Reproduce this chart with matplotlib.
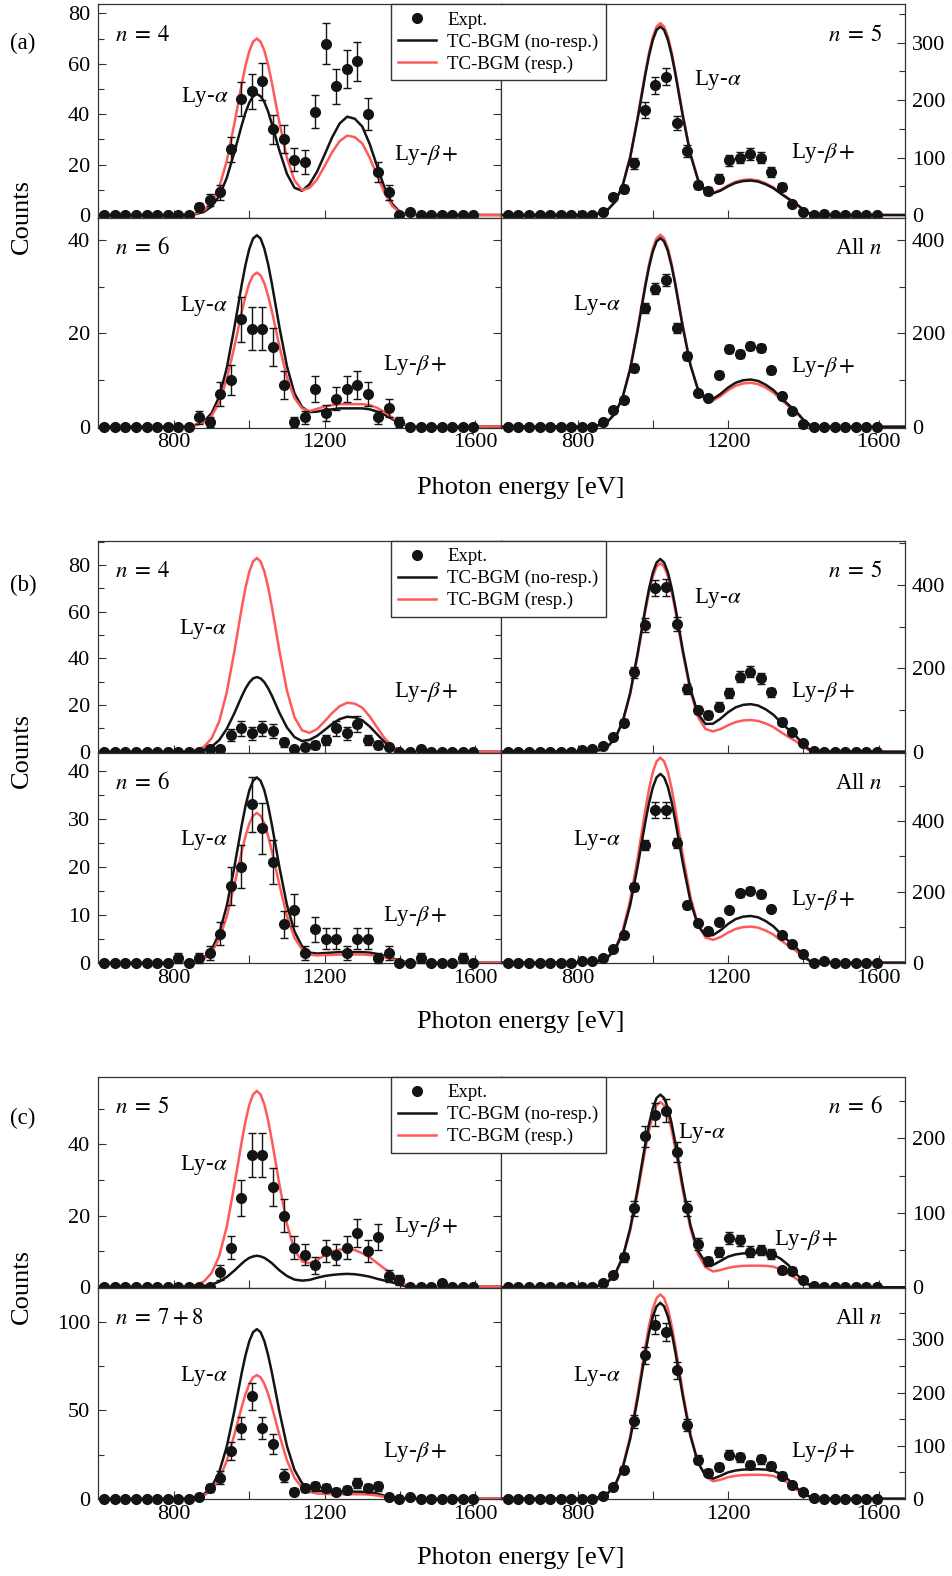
import matplotlib
matplotlib.use('Agg')
import matplotlib.pyplot as plt
from matplotlib.lines import Line2D
from matplotlib.ticker import FixedLocator, MultipleLocator

plt.rcParams['font.family'] = ['Liberation Serif', 'DejaVu Serif']
plt.rcParams['mathtext.fontset'] = 'stix'

# bin centres of the measured spectra (eV)
energy = [615, 643, 671, 699, 727, 755, 783, 811, 839, 867, 895, 923, 951, 979, 1007, 1035, 1063, 1091,
          1119, 1147, 1175, 1203, 1231, 1259, 1287, 1315, 1343, 1371, 1399, 1427, 1455, 1483, 1511, 1539, 1567, 1595]
# energies where the model curves were read
curve_energy = [600, 820, 840, 860, 880, 900, 920, 940, 960, 980, 990, 1000, 1010, 1020, 1030, 1040, 1050, 1060,
                1080, 1100, 1120, 1140, 1160, 1180, 1200, 1220, 1240, 1260, 1280, 1300, 1320, 1340, 1360, 1380,
                1400, 1420, 1440, 1670]

# ---- (a) ----
a4_counts = [0] * 9 + [3, 6, 9, 26, 46, 49, 53, 34, 30, 22, 21, 41, 68, 51, 58, 61, 40, 17, 9, 0, 1] + [0] * 6
a4_err = [0] * 9 + [1.7, 2.4, 3.0, 5.1, 6.8, 7.0, 7.3, 5.8, 5.5, 4.7, 4.6, 6.4, 8.2, 7.1, 7.6, 7.8, 6.3, 4.1, 3.0, 0, 1.0] + [0] * 6
a4_noresp = [0, 0.0, 0.1, 0.4, 1.3, 3.4, 7.5, 14.7, 24.7, 35.7, 40.7, 44.6, 47.1, 48, 47.1, 44.8, 41.0, 36.1, 25.5,
             16.3, 10.8, 9.6, 12.2, 17.2, 23.9, 30.8, 36.3, 39, 38.2, 35.1, 28.1, 19.1, 10.5, 4.3, 1.2, 0, 0, 0]
a4_resp = [0, 0.0, 0.2, 0.6, 1.9, 4.9, 11.0, 21.4, 36.0, 52.1, 59.3, 65.0, 68.7, 70, 68.7, 65.2, 59.5, 52.4, 36.6,
           22.7, 13.7, 9.9, 10.7, 14.1, 19.4, 24.9, 29.3, 31.5, 30.9, 28.4, 22.7, 15.4, 8.5, 3.5, 0.9, 0, 0, 0]

a5_counts = [0] * 9 + [6, 31, 45, 90, 183, 226, 241, 160, 112, 52, 42, 63, 95, 100, 106, 100, 75, 48, 19, 6, 0, 2] + [0] * 5
a5_err = [0] * 9 + [2.4, 5.6, 6.7, 9.5, 13.5, 15.0, 15.5, 12.6, 10.6, 7.2, 6.5, 7.9, 9.7, 10.0, 10.3, 10.0, 8.7, 6.9,
                    4.4, 2.4, 0, 1.4] + [0] * 5
a5_noresp = [0, 0.2, 0.8, 2.9, 8.9, 23.0, 51.5, 100.4, 168.6, 244.0, 277.8, 304.7, 322.1, 328, 322.1, 305.3, 278.7,
             245.2, 171.0, 105.2, 61.1, 41.0, 37.7, 42.5, 50.0, 56.0, 59.1, 60, 58.2, 53.4, 46.8, 37.2, 28.2, 19.8,
             9.0, 1.2, 0, 0]
a5_resp = [0, 0.2, 0.8, 2.9, 9.0, 23.4, 52.4, 102.2, 171.7, 248.5, 282.9, 310.3, 328.0, 334, 328.0, 310.9, 283.8,
           249.7, 174.2, 107.2, 62.3, 42.0, 38.8, 43.8, 51.6, 57.9, 61.1, 62, 60.1, 55.2, 48.4, 38.4, 29.1, 20.5,
           9.3, 1.2, 0, 0]

a6_counts = [0] * 9 + [2, 1, 7, 10, 23, 21, 21, 17, 9, 1, 2, 8, 3, 6, 8, 9, 7, 2, 4, 1] + [0] * 7
a6_err = [0] * 9 + [1.4, 1.0, 2.6, 3.2, 4.8, 4.6, 4.6, 4.1, 3.0, 1.0, 1.4, 2.8, 1.7, 2.4, 2.8, 3.0, 2.6, 1.4, 2.0, 1.0] + [0] * 7
a6_noresp = [0, 0.0, 0.1, 0.4, 1.1, 2.9, 6.4, 12.5, 21.1, 30.5, 34.7, 38.1, 40.3, 41, 40.3, 38.1, 34.8, 30.6, 21.3,
             12.9, 7.1, 4.2, 3.1, 3.2, 3.5, 3.7, 3.9, 3.9, 3.9, 3.9, 3.7, 3.2, 2.5, 1.6, 0.7, 0.2, 0, 0]
a6_resp = [0, 0.0, 0.1, 0.3, 0.9, 2.3, 5.2, 10.1, 17.0, 24.6, 28.0, 30.7, 32.4, 33, 32.4, 30.7, 28.0, 24.7, 17.2,
           10.5, 6.1, 3.9, 3.3, 3.8, 4.3, 4.6, 4.8, 4.8, 4.8, 4.8, 4.6, 4.0, 3.1, 1.9, 0.9, 0.3, 0, 0]

aall_counts = [0] * 9 + [10, 36, 57, 126, 254, 296, 314, 211, 152, 73, 62, 111, 166, 156, 173, 169, 121, 66, 34, 5] + [0] * 7
aall_err = [0] * 9 + [2.2, 4.2, 5.3, 7.9, 11.2, 12.0, 12.4, 10.2, 8.6, 6.0, 5.5, 7.4, 9.0, 8.7, 9.2, 9.1, 7.7, 5.7,
                      4.0, 1.6] + [0] * 7
aall_noresp = [0, 0.2, 1.0, 3.6, 10.9, 28.3, 63.4, 123.6, 207.7, 300.6, 342.2, 375.3, 396.7, 404, 396.7, 376.3,
               343.7, 302.6, 211.7, 131.7, 79.6, 58.6, 59.4, 70.3, 83.8, 94.1, 99.5, 101, 98.0, 89.9, 78.8, 62.6,
               47.5, 33.3, 15.2, 2.0, 0, 0]
aall_resp = [0, 0.2, 1.0, 3.6, 11.1, 28.8, 64.5, 125.8, 211.3, 305.8, 348.1, 381.8, 403.6, 411, 403.6, 382.7,
             349.5, 307.7, 215.1, 133.3, 79.5, 57.0, 56.2, 65.6, 78.1, 87.6, 92.6, 94, 91.2, 83.7, 73.3, 58.3,
             44.2, 31.0, 14.1, 1.9, 0, 0]

# ---- (b) ----
b4_counts = [0] * 10 + [1, 1, 7, 10, 8, 10, 9, 4, 1, 2, 3, 5, 10, 8, 12, 5, 3, 2, 0, 0, 1] + [0] * 5
b4_err = [0] * 10 + [1.0, 1.0, 2.6, 3.2, 2.8, 3.2, 3.0, 2.0, 1.0, 1.4, 1.7, 2.2, 3.2, 2.8, 3.5, 2.2, 1.7, 1.4,
                     0, 0, 1.0] + [0] * 5
b4_noresp = [0, 0.0, 0.1, 0.3, 0.9, 2.2, 5.0, 9.8, 16.4, 23.8, 27.1, 29.7, 31.4, 32, 31.4, 29.8, 27.2, 24.0, 16.7,
             10.4, 6.3, 4.6, 5.1, 6.8, 9.3, 11.9, 14.0, 15, 14.7, 13.5, 10.8, 7.4, 4.1, 1.7, 0.5, 0, 0, 0]
b4_resp = [0, 0.0, 0.2, 0.7, 2.2, 5.8, 13.0, 25.4, 42.7, 61.8, 70.3, 77.1, 81.5, 83, 81.5, 77.2, 70.5, 62.0, 43.1,
           26.2, 14.8, 9.2, 8.1, 9.7, 13.0, 16.6, 19.5, 21, 20.6, 18.9, 15.1, 10.3, 5.7, 2.3, 0.6, 0, 0, 0]

b5_counts = [0] * 7 + [3, 6, 14, 36, 70, 190, 304, 392, 394, 306, 150, 100, 88, 108, 140, 180, 192, 176, 142, 72,
                       48, 22, 2] + [0] * 6
b5_err = [0] * 7 + [1.7, 2.4, 3.7, 6.0, 8.4, 13.8, 17.4, 19.8, 19.8, 17.5, 12.2, 10.0, 9.4, 10.4, 11.8, 13.4, 13.9,
                    13.3, 11.9, 8.5, 6.9, 4.7, 1.4] + [0] * 6
b5_noresp = [0, 0.3, 1.2, 4.1, 12.5, 32.3, 72.5, 141.4, 237.5, 343.7, 391.3, 429.2, 453.7, 462, 453.7, 430.3,
             393.0, 346.0, 242.1, 150.5, 90.7, 66.5, 67.2, 79.3, 94.7, 106.3, 112.3, 114, 110.6, 101.5, 88.9,
             70.7, 53.6, 37.6, 17.1, 2.3, 0, 0]
b5_resp = [0, 0.3, 1.1, 4.0, 12.2, 31.6, 71.0, 138.3, 232.3, 336.3, 382.8, 419.9, 443.9, 452, 443.9, 420.7,
           384.0, 337.8, 235.3, 144.4, 83.2, 54.4, 48.7, 54.2, 63.4, 71.0, 74.9, 76, 73.7, 67.6, 59.3, 47.1,
           35.7, 25.1, 11.4, 1.5, 0, 0]

b6_counts = [0] * 7 + [1, 0, 1, 2, 6, 16, 20, 33, 28, 21, 8, 11, 2, 7, 5, 5, 2, 5, 5, 1, 2, 0, 0, 1, 0, 0, 0, 1, 0]
b6_err = [0] * 7 + [1.0, 0, 1.0, 1.4, 2.4, 4.0, 4.5, 5.7, 5.3, 4.6, 2.8, 3.3, 1.4, 2.6, 2.2, 2.2, 1.4, 2.2, 2.2,
                    1.0, 1.4, 0, 0, 1.0, 0, 0, 0, 1.0, 0]
b6_noresp = [0, 0.0, 0.1, 0.3, 1.0, 2.7, 6.1, 11.8, 19.8, 28.7, 32.7, 35.9, 37.9, 38.6, 37.9, 35.9, 32.7, 28.7,
             19.9, 12.0, 6.5, 3.4, 2.1, 1.9, 2.0, 2.1, 2.2, 2.2, 2.2, 2.2, 2.1, 1.8, 1.4, 0.9, 0.4, 0.1, 0, 0]
b6_resp = [0, 0.0, 0.1, 0.3, 0.8, 2.2, 4.9, 9.6, 16.1, 23.2, 26.4, 29.0, 30.6, 31.2, 30.6, 29.0, 26.4, 23.2, 16.2,
           9.7, 5.2, 2.8, 1.7, 1.5, 1.6, 1.6, 1.7, 1.7, 1.7, 1.7, 1.6, 1.4, 1.1, 0.7, 0.3, 0.1, 0, 0]

ball_counts = [0] * 7 + [5, 5, 12, 40, 78, 213, 332, 431, 431, 337, 162, 111, 90, 116, 149, 196, 203, 193, 152,
                         78, 53, 25, 0, 5] + [0] * 5
ball_err = [0] * 7 + [2, 2, 3, 5, 7, 11, 14, 22, 22, 14, 10, 8, 7, 8, 9, 10, 10, 10, 9, 7, 5, 4, 0, 2] + [0] * 5
ball_noresp = [0, 0.3, 1.3, 4.7, 14.4, 37.3, 83.7, 163.1, 274.0, 396.6, 451.5, 495.2, 523.4, 533, 523.4, 496.5,
               453.4, 399.2, 279.3, 173.7, 104.8, 76.9, 77.8, 91.8, 109.5, 123.1, 130.0, 132, 128.0, 117.5, 103.0,
               81.8, 62.0, 43.6, 19.8, 2.6, 0, 0]
ball_resp = [0, 0.3, 1.4, 5.1, 15.6, 40.5, 90.9, 177.2, 297.6, 430.8, 490.4, 537.9, 568.6, 579, 568.6, 538.9,
             492.0, 432.8, 301.7, 185.4, 107.2, 71.1, 64.6, 72.4, 85.0, 95.2, 100.5, 102, 98.9, 90.8, 79.6, 63.2,
             47.9, 33.7, 15.3, 2.0, 0, 0]

# ---- (c) ----
c5_counts = [0] * 11 + [4, 11, 25, 37, 37, 28, 20, 11, 9, 6, 10, 9, 11, 15, 10, 14, 3, 2] + [0, 0, 0, 1, 0, 0, 0]
c5_err = [0] * 11 + [2.0, 3.3, 5.0, 6.1, 6.1, 5.3, 4.5, 3.3, 3.0, 2.4, 3.2, 3.0, 3.3, 3.9, 3.2, 3.7, 1.7, 1.4] + \
         [0, 0, 0, 1.0, 0, 0, 0]
c5_noresp = [0, 0.0, 0.0, 0.1, 0.2, 0.6, 1.4, 2.7, 4.5, 6.5, 7.4, 8.1, 8.5, 8.7, 8.5, 8.1, 7.4, 6.6, 4.6, 3.0,
             2.0, 1.7, 1.9, 2.5, 3.0, 3.3, 3.5, 3.6, 3.5, 3.2, 2.8, 2.2, 1.7, 1.2, 0.5, 0.1, 0, 0]
c5_resp = [0, 0.0, 0.1, 0.5, 1.5, 3.9, 8.6, 16.8, 28.3, 40.9, 46.6, 51.1, 54.0, 55, 54.0, 51.2, 46.7, 41.1, 28.7,
           17.6, 10.3, 7.1, 6.6, 7.5, 8.8, 9.9, 10.4, 10.6, 10.3, 9.4, 8.3, 6.6, 5.0, 3.5, 1.6, 0.2, 0, 0]

c6_counts = [0] * 8 + [1, 6, 16, 40, 106, 203, 232, 237, 182, 106, 58, 35, 47, 66, 63, 48, 50, 45, 23, 22, 10, 2] + [0] * 6
c6_err = [0] * 8 + [1.0, 2.4, 4.0, 6.3, 10.3, 14.2, 15.2, 15.4, 13.5, 10.3, 7.6, 5.9, 6.9, 8.1, 7.9, 6.9, 7.1, 6.7,
                    4.8, 4.7, 3.2, 1.4] + [0] * 6
c6_noresp = [0, 0.2, 0.6, 2.3, 7.0, 18.1, 40.7, 79.3, 133.1, 192.7, 219.4, 240.6, 254.3, 259, 254.3, 241.1, 220.1,
             193.6, 135.2, 83.4, 49.0, 33.3, 30.0, 35.4, 41.1, 44.1, 45.5, 46, 46, 45.5, 43.9, 38.2, 29.9, 18.4,
             8.3, 2.5, 0, 0]
c6_resp = [0, 0.1, 0.6, 2.2, 6.7, 17.4, 39.1, 76.2, 128.0, 185.3, 210.9, 231.3, 244.5, 249, 244.5, 231.6, 211.3,
           185.9, 129.3, 78.8, 44.3, 27.0, 21.2, 23.1, 26.1, 27.8, 28.7, 29, 29, 28.7, 27.7, 24.1, 18.9, 11.6,
           5.2, 1.6, 0, 0]

c78_counts = [0] * 9 + [1, 6, 12, 27, 40, 58, 40, 31, 13, 4, 6, 7, 6, 4, 5, 9, 6, 7, 1, 0, 1] + [0] * 6
c78_err = [0] * 9 + [1.0, 2.4, 3.5, 5.2, 6.3, 7.6, 6.3, 5.6, 3.6, 2.0, 2.4, 2.6, 2.4, 2.0, 2.2, 3.0, 2.4, 2.6,
                     1.0, 0, 1.0] + [0] * 6
c78_noresp = [0, 0.1, 0.2, 0.8, 2.6, 6.7, 15.1, 29.4, 49.3, 71.4, 81.3, 89.2, 94.3, 96, 94.3, 89.2, 81.3, 71.4,
              49.3, 29.8, 16.3, 8.8, 5.7, 4.5, 4.1, 4.1, 4.1, 4.1, 4.0, 3.9, 3.6, 2.9, 1.6, 0.5, 0, 0, 0, 0]
c78_resp = [0, 0.0, 0.2, 0.6, 1.9, 4.9, 11.0, 21.4, 36.0, 52.1, 59.3, 65.0, 68.7, 70, 68.7, 65.0, 59.3, 52.1,
            36.0, 21.7, 11.8, 6.2, 3.9, 2.9, 2.7, 2.6, 2.6, 2.6, 2.5, 2.5, 2.3, 1.8, 1.0, 0.3, 0, 0, 0, 0]

call_counts = [0] * 9 + [6, 23, 55, 146, 270, 328, 314, 242, 139, 73, 49, 59, 83, 78, 64, 74, 62, 43, 26, 12, 2] + [0] * 6
call_err = [0] * 9 + [2.4, 4.8, 7.4, 12.1, 16.4, 18.1, 17.7, 15.6, 11.8, 8.5, 7.0, 7.7, 9.1, 8.8, 8.0, 8.6, 7.9,
                      6.6, 5.1, 3.5, 1.4] + [0] * 6
call_noresp = [0, 0.2, 0.9, 3.2, 10.0, 25.8, 57.9, 112.9, 189.7, 274.5, 312.5, 342.8, 362.4, 369, 362.4, 343.4,
               313.4, 275.6, 192.2, 117.9, 67.9, 44.1, 37.8, 43.2, 49.7, 53.2, 54.9, 55.5, 55.5, 54.9, 53.0, 46.1,
               36.1, 22.2, 10.0, 3.1, 0, 0]
call_resp = [0, 0.2, 1.0, 3.4, 10.4, 27.0, 60.4, 117.8, 197.9, 286.4, 326.1, 357.7, 378.1, 385, 378.1, 358.2,
             326.7, 287.3, 199.9, 121.9, 68.5, 41.9, 32.9, 35.8, 40.6, 43.2, 44.6, 45, 45, 44.6, 43.0, 37.4,
             29.3, 18.0, 8.1, 2.5, 0, 0]

W, H = 953, 1576
RED = '#ff5a5a'
INK = '#141414'
fig = plt.figure(figsize=(W / 100, H / 100), dpi=100)


def add_panel(x0, x1, y0, y1):
    return fig.add_axes([x0 / W, 1 - y1 / H, (x1 - x0) / W, (y1 - y0) / H])


def draw(ax, counts, err, noresp, resp, ylim, major, minor, side, nlabel, lya, lyb, red_top, bottom):
    zr, zb = (2.2, 2.0) if red_top else (2.0, 2.2)
    ax.plot(curve_energy, resp, color=RED, lw=1.8, zorder=zr, solid_joinstyle='round')
    ax.plot(curve_energy, noresp, color=INK, lw=1.8, zorder=zb, solid_joinstyle='round')
    eb = ax.errorbar(energy, counts, yerr=err, fmt='o', ms=7, color=INK, ecolor=INK,
                     elinewidth=1.0, capsize=3.2, capthick=1.0, zorder=4)
    dl, caps, bars = eb.lines
    dl.set_clip_on(False)
    for c in caps:
        c.set_clip_on(False)
    for b in bars:
        b.set_clip_on(False)

    ax.set_xlim(598, 1670)
    ax.set_ylim(*ylim)
    ax.xaxis.set_major_locator(FixedLocator([800, 1200, 1600]))
    ax.xaxis.set_minor_locator(FixedLocator([1000, 1400]))
    ax.yaxis.set_major_locator(MultipleLocator(major))
    ax.yaxis.set_minor_locator(MultipleLocator(minor))
    ax.tick_params(axis='x', which='both', direction='in', top=False, bottom=True, length=5.5,
                   labelbottom=bottom, labelsize=16, pad=4, width=0.8, color='#333333')
    if side == 'left':
        ax.tick_params(axis='y', which='both', direction='in', left=True, right=True,
                       labelleft=True, labelright=False, labelsize=16, pad=5.5, width=0.8, color='#333333')
    else:
        ax.tick_params(axis='y', which='both', direction='in', left=False, right=True,
                       labelleft=False, labelright=True, labelsize=16, pad=5, width=0.8, color='#333333')
    ax.tick_params(axis='y', which='major', length=5.5)
    ax.tick_params(axis='y', which='minor', length=4)
    for s in ax.spines.values():
        s.set_linewidth(0.9)
        s.set_color('#333333')

    if side == 'left':
        ax.text(0.042, 0.855, nlabel, transform=ax.transAxes, ha='left', va='center', fontsize=16.5)
    else:
        ax.text(0.946, 0.855, nlabel, transform=ax.transAxes, ha='right', va='center', fontsize=16.5)
    ax.text(lya[0], lya[1], r'Ly-$\alpha$', transform=ax.transAxes, ha='center', va='center', fontsize=16.5)
    ax.text(lyb[0], lyb[1], r'Ly-$\beta+$', transform=ax.transAxes, ha='center', va='center', fontsize=16.5)


# group: tag, top, middle, bottom (px), tag y, xlabel y
groups = [
    ('(a)', 4, 218, 427.5, 43, 487.6, [
        (a4_counts, a4_err, a4_noresp, a4_resp, (-1.2, 83.7), 20, 10, r'$n\;=\;4$', (0.264, 0.565), (0.814, 0.294)),
        (a5_counts, a5_err, a5_noresp, a5_resp, (-5.2, 367.4), 100, 50, r'$n\;=\;5$', (0.535, 0.645), (0.798, 0.304)),
        (a6_counts, a6_err, a6_noresp, a6_resp, (-0.2, 44.7), 20, 10, r'$n\;=\;6$', (0.263, 0.58), (0.787, 0.298)),
        (aall_counts, aall_err, aall_noresp, aall_resp, (-1.7, 447), 200, 100, r'All $n$', (0.235, 0.585), (0.798, 0.29)),
    ]),
    ('(b)', 540.7, 752.7, 963.3, 585, 1022.4, [
        (b4_counts, b4_err, b4_noresp, b4_resp, (-0.4, 90.4), 20, 10, r'$n\;=\;4$', (0.259, 0.583), (0.814, 0.288)),
        (b5_counts, b5_err, b5_noresp, b5_resp, (-2.4, 506), 200, 100, r'$n\;=\;5$', (0.535, 0.73), (0.798, 0.288)),
        (b6_counts, b6_err, b6_noresp, b6_resp, (-0.13, 43.75), 10, 5, r'$n\;=\;6$', (0.263, 0.585), (0.787, 0.226)),
        (ball_counts, ball_err, ball_noresp, ball_resp, (-1.7, 593), 200, 100, r'All $n$', (0.235, 0.585), (0.798, 0.30)),
    ]),
    ('(c)', 1076.7, 1288, 1499.3, 1118, 1558.2, [
        (c5_counts, c5_err, c5_noresp, c5_resp, (-0.37, 59), 20, 10, r'$n\;=\;5$', (0.263, 0.582), (0.814, 0.287)),
        (c6_counts, c6_err, c6_noresp, c6_resp, (-1.0, 283), 100, 50, r'$n\;=\;6$', (0.4975, 0.732), (0.756, 0.227)),
        (c78_counts, c78_err, c78_noresp, c78_resp, (-0.34, 119.3), 50, 25, r'$n\;=\;7+8$', (0.263, 0.585), (0.787, 0.225)),
        (call_counts, call_err, call_noresp, call_resp, (-1.1, 397), 100, 50, r'All $n$', (0.235, 0.585), (0.798, 0.225)),
    ]),
]

XL, XM, XR = 98, 501.5, 905

for tag, top, mid, bot, tag_y, xlab_y, panels in groups:
    boxes = [(XL, XM, top, mid, 'left', False), (XM, XR, top, mid, 'right', False),
             (XL, XM, mid, bot, 'left', True), (XM, XR, mid, bot, 'right', True)]
    for (x0, x1, y0, y1, side, bottom), p in zip(boxes, panels):
        ax = add_panel(x0, x1, y0, y1)
        counts, err, noresp, resp, ylim, major, minor, nlabel, lya, lyb = p
        draw(ax, counts, err, noresp, resp, ylim, major, minor, side, nlabel, lya, lyb,
             red_top=(side == 'left'), bottom=bottom)

    fig.text(23 / W, 1 - tag_y / H, tag, ha='center', va='center', fontsize=16.5)
    fig.text(22 / W, 1 - (mid - 2) / H, 'Counts', rotation=90, ha='center', va='center', fontsize=19)
    fig.text(521 / W, 1 - xlab_y / H, 'Photon energy [eV]', ha='center', va='center', fontsize=19)

    handles = [Line2D([], [], ls='none', marker='o', ms=7, color=INK),
               Line2D([], [], color=INK, lw=1.8),
               Line2D([], [], color=RED, lw=1.8)]
    leg = fig.legend(handles, ['Expt.', 'TC-BGM (no-resp.)', 'TC-BGM (resp.)'],
                     loc='upper left', bbox_to_anchor=(391 / W, 1 - top / H), borderaxespad=0,
                     fontsize=13.5, frameon=True, fancybox=False, edgecolor='#333333', framealpha=1,
                     handlelength=2.0, handletextpad=0.6, labelspacing=0.25, borderpad=0.4)
    leg.get_frame().set_linewidth(1.0)

fig.savefig('out.png', dpi=100)
